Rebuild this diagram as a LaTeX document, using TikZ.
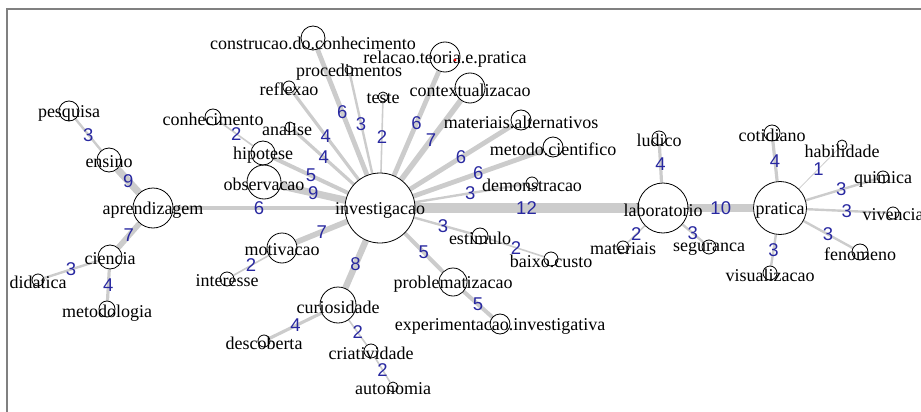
\documentclass[tikz,border=0pt]{standalone}
\usepackage{fontspec}
\setmainfont{Liberation Serif}
\newfontfamily\numfont{Liberation Sans}
\usepackage{xcolor}
\usepackage{tikz}
\usetikzlibrary{positioning, backgrounds}
\definecolor{numblue}{RGB}{40,40,160}

\begin{document}
\begin{tikzpicture}[
    x=1pt, y=-1pt,
    vtx/.style={circle, draw, line width=0.8pt, inner sep=0pt, minimum size=#1pt},
    lbl/.style={font=\fontsize{18}{20}\selectfont, inner sep=0pt, yshift=-2pt},
    link/.style={draw=gray!40, line width=#1*0.8pt},
    wnum/.style={text=numblue, font=\numfont\fontsize{18.5}{20}\selectfont, inner sep=1pt}
]
\useasboundingbox (0,0) rectangle (921,412);
\draw[gray, line width=2pt] (7,412) -- (7,9.5) -- (921,9.5);

% hubs
\node[vtx=70, label={[lbl]center:investigacao}] (investigacao) at (380,208) {};
\node[vtx=40, label={[lbl]center:aprendizagem}] (aprendizagem) at (153,208) {};
\node[vtx=50, label={[lbl]center:laboratorio}] (laboratorio) at (663,208) {};
\node[vtx=53, label={[lbl]center:pratica}] (pratica) at (780,208) {};

% aprendizagem side
\node[vtx=20, label={[lbl]center:pesquisa}] (pesquisa) at (69,111) {};
\node[vtx=24, label={[lbl]center:ensino}] (ensino) at (109,160) {};
\node[vtx=24, label={[lbl]center:ciencia}] (ciencia) at (110,257) {};
\node[vtx=12, label={[lbl]center:didatica}] (didatica) at (38,280) {};
\node[vtx=16, label={[lbl, yshift=-2pt]center:metodologia}] (metodologia) at (107,309) {};

% investigacao side
\node[vtx=16, label={[lbl]center:conhecimento}] (conhecimento) at (213,117) {};
\node[vtx=10, label={[lbl, xshift=-3pt]center:analise}] (analise) at (290,127) {};
\node[vtx=24, label={[lbl]center:hipotese}] (hipotese) at (263,153) {};
\node[vtx=34, label={[lbl]center:observacao}] (observacao) at (264,182) {};
\node[vtx=12, label={[lbl]center:reflexao}] (reflexao) at (289,87) {};
\node[vtx=24, label={[lbl, yshift=-3pt]center:construcao.do.conhecimento}] (construcao) at (313,38) {};
\node[vtx=8, label={[lbl]center:procedimentos}] (procedimentos) at (349,70) {};
\node[vtx=10, label={[lbl]center:teste}] (teste) at (383,97) {};
\node[vtx=30, label={[lbl]center:relacao.teoria.e.pratica}] (relacao) at (445,57) {};
\node[vtx=30, label={[lbl]center:contextualizacao}] (contextualizacao) at (470,88) {};
\node[vtx=20, label={[lbl]center:materiais.alternativos}] (matalt) at (521,120) {};
\node[vtx=20, label={[lbl]center:metodo.cientifico}] (metcien) at (553,147) {};
\node[vtx=12, label={[lbl]center:demonstracao}] (demonstracao) at (532,183) {};
\node[vtx=30, label={[lbl]center:motivacao}] (motivacao) at (282,248) {};
\node[vtx=14, label={[lbl]center:interesse}] (interesse) at (227,279) {};
\node[vtx=36, label={[lbl]center:curiosidade}] (curiosidade) at (338,305) {};
\node[vtx=12, label={[lbl]center:descoberta}] (descoberta) at (264,341) {};
\node[vtx=14, label={[lbl]center:criatividade}] (criatividade) at (371,351) {};
\node[vtx=10, label={[lbl]center:autonomia}] (autonomia) at (393,387) {};
\node[vtx=28, label={[lbl]center:problematizacao}] (problematizacao) at (453,282) {};
\node[vtx=20, label={[lbl]center:experimentacao.investigativa}] (experimentacao) at (500,324) {};
\node[vtx=16, label={[lbl]center:estimulo}] (estimulo) at (480,236) {};
\node[vtx=14, label={[lbl]center:baixo.custo}] (baixocusto) at (551,259) {};

% laboratorio and pratica side
\node[vtx=14, label={[lbl]center:ludico}] (ludico) at (659,138) {};
\node[vtx=12, label={[lbl]center:materiais}] (materiais) at (623,247) {};
\node[vtx=14, label={[lbl]center:seguranca}] (seguranca) at (709,247) {};
\node[vtx=16, label={[lbl]center:cotidiano}] (cotidiano) at (772,133) {};
\node[vtx=10, label={[lbl, yshift=-4pt]center:habilidade}] (habilidade) at (842,145) {};
\node[vtx=12, label={[lbl]center:quimica}] (quimica) at (883,177) {};
\node[vtx=12, label={[lbl]center:vivencia}] (vivencia) at (893,213) {};
\node[vtx=16, label={[lbl]center:fenomeno}] (fenomeno) at (860,252) {};
\node[vtx=14, label={[lbl]center:visualizacao}] (visualizacao) at (770,273) {};

\fill[red] (455,60) circle (1.5);

\begin{pgfonlayer}{background}
\draw[link=6] (aprendizagem) -- node[wnum] {6} (investigacao);
\draw[link=3] (pesquisa) -- node[wnum] {3} (ensino);
\draw[link=9] (ensino) -- node[wnum] {9} (aprendizagem);
\draw[link=7] (aprendizagem) -- node[wnum] {7} (ciencia);
\draw[link=3] (ciencia) -- node[wnum] {3} (didatica);
\draw[link=4] (ciencia) -- node[wnum] {4} (metodologia);

\draw[link=2] (conhecimento) -- node[wnum] {2} (hipotese);
\draw[link=5] (hipotese) -- node[wnum] {5} (investigacao);
\draw[link=4] (analise) -- node[wnum] {4} (investigacao);
\draw[link=4] (reflexao) -- node[wnum] {4} (investigacao);
\draw[link=9] (observacao) -- node[wnum] {9} (investigacao);
\draw[link=6] (construcao) -- node[wnum] {6} (investigacao);
\draw[link=3] (procedimentos) -- node[wnum] {3} (investigacao);
\draw[link=2] (teste) -- node[wnum] {2} (investigacao);
\draw[link=6] (relacao) -- node[wnum] {6} (investigacao);
\draw[link=7] (contextualizacao) -- node[wnum] {7} (investigacao);
\draw[link=6] (matalt) -- node[wnum] {6} (investigacao);
\draw[link=6] (metcien) -- node[wnum] {6} (investigacao);
\draw[link=3] (demonstracao) -- node[wnum] {3} (investigacao);

\draw[link=7] (investigacao) -- node[wnum] {7} (motivacao);
\draw[link=2] (motivacao) -- node[wnum] {2} (interesse);
\draw[link=8] (investigacao) -- node[wnum] {8} (curiosidade);
\draw[link=4] (curiosidade) -- node[wnum] {4} (descoberta);
\draw[link=2] (curiosidade) -- node[wnum] {2} (criatividade);
\draw[link=2] (criatividade) -- node[wnum] {2} (autonomia);
\draw[link=5] (investigacao) -- node[wnum] {5} (problematizacao);
\draw[link=5] (problematizacao) -- node[wnum] {5} (experimentacao);
\draw[link=3] (investigacao) -- node[wnum] {3} (estimulo);
\draw[link=2] (estimulo) -- node[wnum] {2} (baixocusto);

\draw[link=12] (investigacao) -- node[wnum] {12} (laboratorio);
\draw[link=4] (laboratorio) -- node[wnum] {4} (ludico);
\draw[link=2] (laboratorio) -- node[wnum] {2} (materiais);
\draw[link=3] (laboratorio) -- node[wnum] {3} (seguranca);
\draw[link=10] (laboratorio) -- node[wnum] {10} (pratica);

\draw[link=4] (pratica) -- node[wnum] {4} (cotidiano);
\draw[link=1] (pratica) -- node[wnum] {1} (habilidade);
\draw[link=3] (pratica) -- node[wnum] {3} (quimica);
\draw[link=3] (pratica) -- node[wnum] {3} (vivencia);
\draw[link=3] (pratica) -- node[wnum] {3} (fenomeno);
\draw[link=3] (pratica) -- node[wnum] {3} (visualizacao);
\end{pgfonlayer}

\end{tikzpicture}
\end{document}
